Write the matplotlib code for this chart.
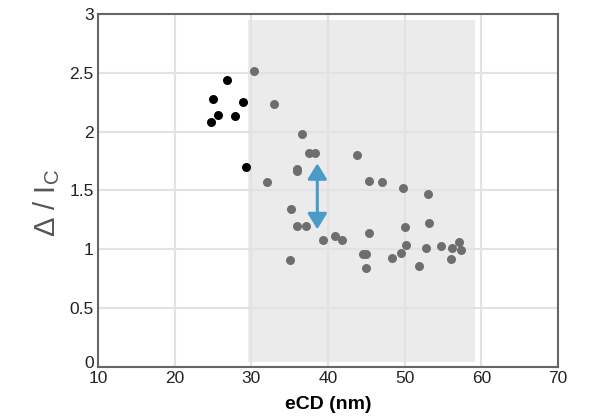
import matplotlib
matplotlib.use("Agg")
import matplotlib.pyplot as plt
import matplotlib.transforms as mtransforms

plt.rcParams["font.family"] = ["Liberation Sans", "DejaVu Sans"]

# points outside the shaded window (black)
black_x = [26.8, 25.0, 28.9, 25.6, 27.9, 24.7, 29.25]
black_y = [2.44, 2.28, 2.25, 2.14, 2.13, 2.08, 1.70]

# points inside the shaded window (grey)
grey_x = [30.3, 32.9, 36.6, 37.5, 38.3, 43.8, 36.0, 35.9, 32.0, 45.3,
          47.1, 49.8, 53.0, 35.2, 36.0, 37.1, 50.0, 53.2, 45.3, 39.3,
          40.9, 41.8, 50.1, 52.8, 54.7, 56.2, 57.1, 57.4, 44.6, 45.0,
          49.5, 48.4, 56.0, 35.0, 45.0, 51.9]
grey_y = [2.51, 2.23, 1.98, 1.82, 1.82, 1.80, 1.68, 1.665, 1.57, 1.58,
          1.575, 1.52, 1.47, 1.34, 1.20, 1.20, 1.19, 1.22, 1.14, 1.08,
          1.11, 1.08, 1.04, 1.01, 1.03, 1.01, 1.06, 0.99, 0.96, 0.96,
          0.97, 0.93, 0.92, 0.91, 0.84, 0.86]

shade_x = (29.5, 59.2)
shade_y = (0.04, 2.95)
arrow_x = 38.6
arrow_y = (1.73, 1.17)

fig = plt.figure(figsize=(5.9, 4.18), dpi=100)
ax = fig.add_axes([0.166, 0.122, 0.78, 0.845])

ax.fill_between(shade_x, shade_y[0], shade_y[1], color="#ebebeb", lw=0, zorder=0.3)
ax.grid(True, color="#e2e2e2", lw=1.5)
ax.set_axisbelow(True)

ax.scatter(grey_x, grey_y, s=42, color="#6e6e6e", lw=0, zorder=3)
ax.scatter(black_x, black_y, s=42, color="black", lw=0, zorder=3)

ax.annotate("", xy=(arrow_x, arrow_y[1]), xytext=(arrow_x, arrow_y[0]),
            arrowprops=dict(arrowstyle="<|-|>,head_length=0.94,head_width=0.58",
                            mutation_scale=10, color="#4a9bc9", lw=2.2,
                            shrinkA=0, shrinkB=0), zorder=4)

ax.set_xlim(10, 70)
ax.set_ylim(0, 3)
ax.set_xticks(range(10, 71, 10))
ax.set_yticks([0, 0.5, 1, 1.5, 2, 2.5, 3])
ax.set_yticklabels(["0", "0.5", "1", "1.5", "2", "2.5", "3"])
ax.tick_params(length=0, labelsize=12.5, colors="#222222", pad=3)
ax.tick_params(axis="x", pad=3)

# lift the y "0" a little so it only touches the x "10"
lbl0 = ax.get_yticklabels()[0]
lbl0.set_transform(lbl0.get_transform() +
                   mtransforms.ScaledTranslation(0, 5 / 100, fig.dpi_scale_trans))

for s in ax.spines.values():
    s.set_color("#666666")
    s.set_linewidth(1.5)

ax.set_xlabel("eCD (nm)", fontsize=14, fontweight="bold", labelpad=7)
ax.set_ylabel(r"Δ / I$_\mathregular{C}$", fontsize=21, color="#555555")
ax.yaxis.set_label_coords(-0.078, 0.463)

fig.savefig("out.png", dpi=100)
